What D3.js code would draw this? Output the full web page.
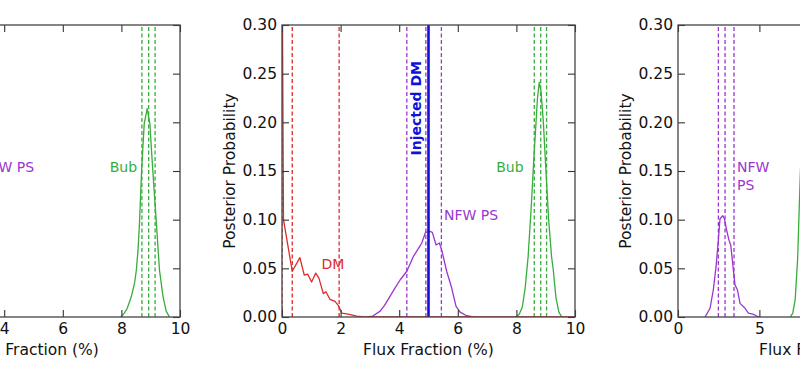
<!DOCTYPE html>
<html>
<head>
<meta charset="utf-8">
<script src="https://cdn.jsdelivr.net/npm/d3@7/dist/d3.min.js"></script>
<style>
  html, body { margin: 0; padding: 0; background: #fff; }
  svg { display: block; font-family: "DejaVu Sans", sans-serif; }
</style>
</head>
<body>
<svg id="chart" width="800" height="366"></svg>
<script>
// ---------------- data ----------------
const yTicks = [0, 0.05, 0.10, 0.15, 0.20, 0.25, 0.30];
const xTicksA = [0, 2, 4, 6, 8, 10];
const xTicksC = [0, 5, 10, 15];

// Panel A (left, partially visible)
const bubA_x = [7.98, 8.1, 8.2, 8.34, 8.45, 8.51, 8.57, 8.62, 8.69, 8.78, 8.88, 8.97, 9.07, 9.19, 9.30, 9.42, 9.53, 9.64];
const bubA_y = [0, 0.004, 0.009, 0.021, 0.035, 0.048, 0.070, 0.098, 0.151, 0.199, 0.214, 0.199, 0.151, 0.098, 0.048, 0.021, 0.006, 0];
const bubA_lines = [8.70, 8.93, 9.15];

// Panel B (middle)
const dmB_x = [0, 0.05, 0.35, 0.61, 0.76, 0.88, 1.01, 1.15, 1.26, 1.41, 1.50, 1.64, 1.81, 1.92, 2.04, 2.26, 2.55, 2.78, 10];
const dmB_y = [0.40, 0.100, 0.047, 0.061, 0.043, 0.044, 0.036, 0.045, 0.040, 0.024, 0.026, 0.018, 0.016, 0.012, 0.004, 0.003, 0.001, 0, 0];
const dmB_lines = [0.0, 0.35, 1.95];
const nfwB_x = [2.9, 3.1, 3.35, 3.5, 3.7, 3.86, 4.03, 4.26, 4.48, 4.69, 4.77, 4.90, 5.05, 5.13, 5.26, 5.37, 5.45, 5.62, 5.79, 5.94, 6.08, 6.30, 6.53];
const nfwB_y = [0, 0.001, 0.006, 0.012, 0.022, 0.030, 0.038, 0.047, 0.062, 0.072, 0.076, 0.087, 0.088, 0.087, 0.074, 0.076, 0.069, 0.047, 0.030, 0.011, 0.005, 0.0013, 0];
const nfwB_lines = [4.26, 4.91, 5.44];
const bubB_x = [8.0, 8.1, 8.2, 8.3, 8.4, 8.5, 8.6, 8.67, 8.72, 8.78, 8.84, 8.92, 9.0, 9.1, 9.2, 9.26, 9.35, 9.45, 9.55];
const bubB_y = [0, 0.003, 0.010, 0.030, 0.062, 0.110, 0.165, 0.200, 0.225, 0.241, 0.232, 0.200, 0.155, 0.100, 0.062, 0.048, 0.020, 0.005, 0];
const bubB_lines = [8.61, 8.83, 9.03];
const injectedDM = 5.0;

// Panel C (right, partially visible)
const nfwC_x = [1.66, 1.97, 2.17, 2.34, 2.48, 2.58, 2.75, 2.85, 2.99, 3.13, 3.24, 3.36, 3.50, 3.65, 3.81, 4.12, 4.32, 4.59, 4.84, 5.04];
const nfwC_y = [0, 0.009, 0.028, 0.052, 0.079, 0.101, 0.104, 0.101, 0.089, 0.079, 0.074, 0.055, 0.033, 0.028, 0.014, 0.009, 0.004, 0.003, 0.001, 0];
const nfwC_lines = [2.48, 2.89, 3.44];
const bubC_x = [6.9, 7.05, 7.2, 7.35, 7.5, 7.65, 7.8, 7.95, 8.1];
const bubC_y = [0, 0.004, 0.018, 0.060, 0.140, 0.205, 0.240, 0.245, 0.230];

// ---------------- drawing ----------------
const COL = { red: "#dd2a2a", purple: "#9a35d0", green: "#37ad3c", blue: "#1010d8", frame: "#444" };
const svg = d3.select("#chart");
const FS = 15.5;
const yTop = 25, yBot = 317;
const y = d3.scaleLinear().domain([0, 0.30]).range([yBot, yTop]);

function panel(id, x0, x1, xmax, xticks) {
  const x = d3.scaleLinear().domain([0, xmax]).range([x0, x1]);
  const g = svg.append("g");
  svg.append("clipPath").attr("id", "clip" + id)
    .append("rect").attr("x", x0).attr("y", yTop).attr("width", x1 - x0).attr("height", yBot - yTop);
  const plot = g.append("g").attr("clip-path", `url(#clip${id})`);
  const axes = g.append("g");
  axes.append("g").attr("transform", `translate(0,${yBot})`)
    .call(d3.axisBottom(x).tickValues(xticks).tickSizeInner(-7).tickSizeOuter(0).tickPadding(6).tickFormat(d3.format("d")));
  axes.append("g").attr("transform", `translate(0,${yTop})`)
    .call(d3.axisTop(x).tickValues(xticks).tickSizeInner(-7).tickSizeOuter(0).tickFormat(""));
  axes.append("g").attr("transform", `translate(${x0},0)`)
    .call(d3.axisLeft(y).tickValues(yTicks).tickSizeInner(-7).tickSizeOuter(0).tickPadding(5).tickFormat(d3.format(".2f")));
  axes.append("g").attr("transform", `translate(${x1},0)`)
    .call(d3.axisRight(y).tickValues(yTicks).tickSizeInner(-7).tickSizeOuter(0).tickFormat(""));
  axes.selectAll(".domain").remove();
  axes.selectAll(".tick line").attr("stroke", "#333").attr("stroke-width", 1.1);
  axes.selectAll(".tick text").attr("font-size", FS).attr("fill", "#111").attr("font-family", "DejaVu Sans");
  axes.append("rect").attr("x", x0).attr("y", yTop).attr("width", x1 - x0).attr("height", yBot - yTop)
    .attr("fill", "none").attr("stroke", COL.frame).attr("stroke-width", 1.3);
  g.append("text").attr("x", (x0 + x1) / 2).attr("y", 354.5).attr("text-anchor", "middle")
    .attr("font-size", FS).attr("fill", "#111").text("Flux Fraction (%)");
  g.append("text").attr("transform", `translate(${x0 - 47.5},${(yTop + yBot) / 2}) rotate(-90)`)
    .attr("text-anchor", "middle").attr("font-size", FS).attr("fill", "#111").text("Posterior Probability");
  return { x, plot, g };
}

function curve(p, xs, ys, color) {
  const pts = xs.map((v, i) => [v, ys[i]]);
  p.plot.append("path").datum(pts)
    .attr("d", d3.line().x(d => p.x(d[0])).y(d => y(d[1])))
    .attr("fill", "none").attr("stroke", color).attr("stroke-width", 1.3).attr("stroke-linejoin", "round");
}
function vlines(p, xs, color, dashed, width) {
  p.plot.selectAll(null).data(xs).enter().append("line")
    .attr("x1", d => p.x(d)).attr("x2", d => p.x(d))
    .attr("y1", y(0)).attr("y2", y(0.30))
    .attr("stroke", color).attr("stroke-width", width || 1.3)
    .attr("stroke-dasharray", dashed ? "4,2.5" : null);
}
function label(p, xv, yv, txt, color, opts) {
  opts = opts || {};
  const t = p.g.append("text").attr("font-size", opts.fs || 14).attr("fill", color)
    .attr("font-weight", opts.bold ? "bold" : "normal");
  if (opts.rotate) {
    t.attr("transform", `translate(${p.x(xv)},${y(yv)}) rotate(-90)`);
  } else {
    t.attr("x", p.x(xv)).attr("y", y(yv));
  }
  t.text(txt);
}

// Panel A
const A = panel("A", -113, 180, 10, xTicksA);
vlines(A, bubA_lines, COL.green, true);
curve(A, bubA_x, bubA_y, COL.green);
label(A, 3.17, 0.149, "NFW PS", COL.purple);
label(A, 7.6, 0.149, "Bub", COL.green);

// Panel B
const B = panel("B", 282, 575, 10, xTicksA);
vlines(B, dmB_lines, COL.red, true);
vlines(B, nfwB_lines, COL.purple, true);
vlines(B, bubB_lines, COL.green, true);
curve(B, bubB_x, bubB_y, COL.green);
curve(B, nfwB_x, nfwB_y, COL.purple);
curve(B, dmB_x, dmB_y, COL.red);
vlines(B, [injectedDM], COL.blue, false, 2.6);
label(B, 1.35, 0.049, "DM", COL.red);
label(B, 5.53, 0.0997, "NFW PS", COL.purple);
label(B, 7.31, 0.149, "Bub", COL.green);
label(B, 4.74, 0.166, "Injected DM", COL.blue, { bold: true, rotate: true });

// Panel C
const Cp = panel("C", 678, 971, 18, xTicksC);
vlines(Cp, nfwC_lines, COL.purple, true);
curve(Cp, nfwC_x, nfwC_y, COL.purple);
curve(Cp, bubC_x, bubC_y, COL.green);
label(Cp, 3.63, 0.149, "NFW", COL.purple);
label(Cp, 3.63, 0.130, "PS", COL.purple);
</script>
</body>
</html>
